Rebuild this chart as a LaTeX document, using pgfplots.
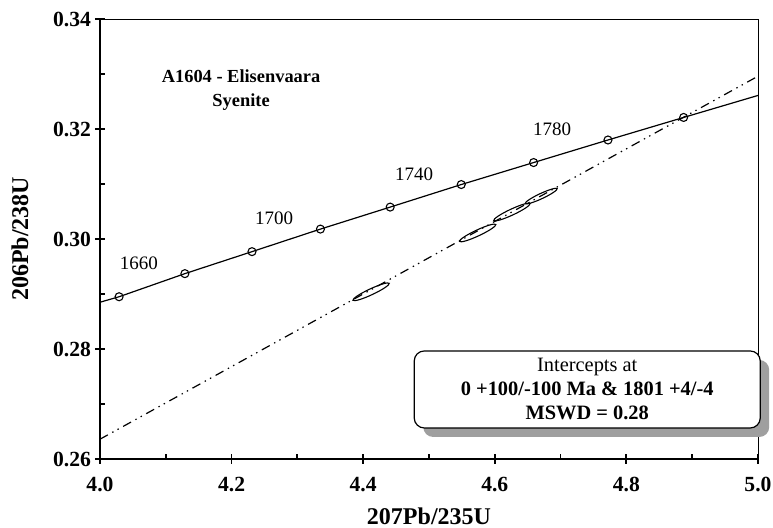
\documentclass[border=0pt]{standalone}
\usepackage{fontspec}
\setmainfont{Liberation Serif}
\usepackage{pgfplots}
\pgfplotsset{compat=1.18}
\usetikzlibrary{calc,shadows}

% error ellipse, long axis tilted about 25 degrees
\pgfdeclareplotmark{ell}{%
  \pgfpathellipse{\pgfpointorigin}{\pgfpoint{9.06pt}{4.23pt}}{\pgfpoint{-0.63pt}{1.36pt}}%
  \pgfusepathqstroke}

\begin{document}
\begin{tikzpicture}
\begin{axis}[
  scale only axis,
  width=329pt, height=220pt,
  xmin=4.0, xmax=5.0, ymin=0.26, ymax=0.34,
  xtick={4.0,4.2,4.4,4.6,4.8,5.0},
  minor xtick={4.1,4.3,4.5,4.7,4.9},
  ytick={0.26,0.28,0.30,0.32,0.34},
  minor ytick={0.27,0.29,0.31,0.33},
  xtick pos=bottom, ytick pos=left,
  scaled ticks=false,
  tick align=center,
  major tick length=5pt, minor tick length=2.5pt,
  every tick/.style={black, line width=0.9pt},
  every minor x tick/.append style={yshift=1.25pt},
  every minor y tick/.append style={xshift=1.25pt},
  axis line style={line width=0.4pt},
  /pgf/number format/assume math mode=true,
  tick label style={font=\fontsize{10.8}{12}\bfseries\selectfont},
  x tick label style={yshift=-3pt, /pgf/number format/.cd, fixed, fixed zerofill, precision=1},
  y tick label style={xshift=1.5pt, /pgf/number format/.cd, fixed, fixed zerofill, precision=2},
  ylabel={206Pb/238U},
  label style={font=\fontsize{12}{14}\bfseries\selectfont},
  ylabel style={at={(axis description cs:-0.1216,0.5)}, anchor=center},
  clip=false,
]
% discordia
\addplot[black, line width=0.6pt, dash pattern=on 4.5pt off 2.5pt on 0.7pt off 2.3pt on 0.7pt off 2.5pt]
  coordinates {(4.0,0.2636) (5.0,0.3296)};
% concordia
\addplot[black, line width=0.6pt] coordinates {
  (4.000,0.2885) (4.029,0.2895) (4.129,0.2937) (4.231,0.2977) (4.335,0.3018)
  (4.441,0.3058) (4.549,0.3099) (4.659,0.3139) (4.772,0.3180) (4.887,0.3221)
  (5.000,0.3261)};
\addplot[only marks, mark=o, mark size=2pt, mark options={fill=white, line width=0.55pt}] coordinates {
  (4.029,0.2895) (4.129,0.2937) (4.231,0.2977) (4.335,0.3018)
  (4.441,0.3058) (4.549,0.3099) (4.659,0.3139) (4.772,0.3180) (4.887,0.3221)};
% analyses
\addplot[only marks, mark=ell, mark options={line width=0.55pt}] coordinates {
  (4.412,0.2904) (4.574,0.3011) (4.626,0.3049)};
\addplot[only marks, mark=ell, mark options={line width=0.55pt, scale=0.88}] coordinates {
  (4.6705,0.3078)};

\node[font=\fontsize{9.5}{11}\selectfont] at (axis cs:4.059,0.2955) {1660};
\node[font=\fontsize{9.5}{11}\selectfont] at (axis cs:4.2646,0.3038) {1700};
\node[font=\fontsize{9.5}{11}\selectfont] at (axis cs:4.4774,0.3118) {1740};
\node[font=\fontsize{9.5}{11}\selectfont] at (axis cs:4.687,0.3200) {1780};

\node[font=\fontsize{9.2}{12}\bfseries\selectfont, align=center] at (axis cs:4.2144,0.3271)
  {A1604 - Elisenvaara\\Syenite};

\node[draw, line width=0.6pt, rounded corners=5pt, fill=white,
      minimum width=173pt, minimum height=38.5pt, inner sep=0pt,
      drop shadow={shadow xshift=4.5pt, shadow yshift=-4.5pt, fill=gray!75, opacity=1},
      align=center, font=\fontsize{10.2}{12}\selectfont]
  at (axis cs:4.7405,0.27264)
  {Intercepts at\\ \textbf{0 +100/-100 Ma \& 1801 +4/-4}\\ \textbf{MSWD = 0.28}};

\node[font=\fontsize{12}{14}\bfseries\selectfont, yshift=-28.5pt] at (rel axis cs:0.5,0) {207Pb/235U};

\draw[line width=1.3pt] (rel axis cs:0,1) -- (rel axis cs:0,0) -- (rel axis cs:1,0);
\coordinate (bl) at (rel axis cs:0,0);
\coordinate (tr) at (rel axis cs:1,1);
\end{axis}
\pgfresetboundingbox
\path ($(bl)+(-50pt,-34.5pt)$) rectangle ($(tr)+(7.5pt,9.5pt)$);
\end{tikzpicture}
\end{document}
